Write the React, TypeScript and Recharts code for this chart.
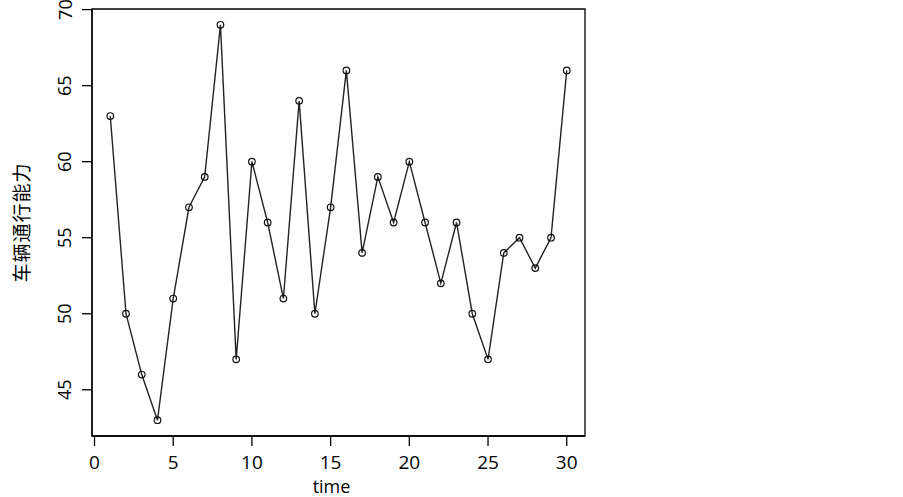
import React from 'react';
import { LineChart, Line, XAxis, YAxis, ReferenceArea } from 'recharts';

// 车辆通行能力 by time step
const times = [
  1, 2, 3, 4, 5, 6, 7, 8, 9, 10, 11, 12, 13, 14, 15,
  16, 17, 18, 19, 20, 21, 22, 23, 24, 25, 26, 27, 28, 29, 30,
];
const capacity = [
  63, 50, 46, 43, 51, 57, 59, 69, 47, 60, 56, 51, 64, 50, 57,
  66, 54, 59, 56, 60, 56, 52, 56, 50, 47, 54, 55, 53, 55, 66,
];
const xTicks = [0, 5, 10, 15, 20, 25, 30];
const yTicks = [45, 50, 55, 60, 65, 70];

// R-style 4% padding around the data range
const xDomain = [-0.16, 31.16];
const yDomain = [41.96, 70.04];

const data = times.map((t, i) => ({ time: t, value: capacity[i] }));

const FONT = '"Open Sans", "Noto Sans", sans-serif';

const XTick = (props: any) => {
  const { x, y, payload } = props;
  return (
    <text x={x} y={y + 23} textAnchor="middle" fontSize={19} fontFamily={FONT} fill="#000">
      {payload.value}
    </text>
  );
};

const YTick = (props: any) => {
  const { x, y, payload } = props;
  const cx = x - 17.5;
  return (
    <text
      x={cx}
      y={y}
      transform={`rotate(-90, ${cx}, ${y})`}
      textAnchor="middle"
      dominantBaseline="central"
      fontSize={18}
      fontFamily={FONT}
      fill="#000"
    >
      {payload.value}
    </text>
  );
};

const YTitle = (props: any) => {
  const vb = props.viewBox;
  const cx = vb.x + 20;
  const cy = vb.y + vb.height / 2;
  return (
    <text
      x={cx}
      y={cy}
      transform={`rotate(-90, ${cx}, ${cy})`}
      textAnchor="middle"
      dominantBaseline="central"
      fontSize={19}
      letterSpacing={1}
      fontFamily='"Noto Sans CJK SC", sans-serif'
      fill="#000"
    >
      车辆通行能力
    </text>
  );
};

const XTitle = (props: any) => {
  const vb = props.viewBox;
  return (
    <text
      x={vb.x + vb.width / 2 - 7}
      y={vb.y + 57}
      textAnchor="middle"
      fontSize={18}
      fontFamily={FONT}
      fill="#000"
    >
      time
    </text>
  );
};

export default function App() {
  return (
    <div style={{ position: 'absolute', left: 0, top: 0, background: '#fff' }}>
      <LineChart
        width={903}
        height={497}
        data={data}
        margin={{ top: 9, right: 318, bottom: 0, left: 0 }}
      >
        <XAxis
          dataKey="time"
          type="number"
          domain={xDomain}
          ticks={xTicks}
          allowDataOverflow
          height={61}
          tickSize={10}
          tickMargin={0}
          axisLine={{ stroke: '#000', strokeWidth: 1.3 }}
          tickLine={{ stroke: '#000', strokeWidth: 1.3 }}
          tick={<XTick />}
          label={{ content: <XTitle /> }}
        />
        <YAxis
          type="number"
          domain={yDomain}
          ticks={yTicks}
          allowDataOverflow
          width={92}
          tickSize={10}
          tickMargin={0}
          axisLine={{ stroke: '#000', strokeWidth: 1.3 }}
          tickLine={{ stroke: '#000', strokeWidth: 1.3 }}
          tick={<YTick />}
          label={{ content: <YTitle /> }}
        />
        <ReferenceArea
          x1={xDomain[0]}
          x2={xDomain[1]}
          y1={yDomain[0]}
          y2={yDomain[1]}
          ifOverflow="visible"
          fill="none"
          fillOpacity={0}
          stroke="#000"
          strokeWidth={1.3}
        />
        <Line
          dataKey="value"
          stroke="#222"
          strokeWidth={1.4}
          isAnimationActive={false}
          dot={{ r: 3.3, stroke: '#111', strokeWidth: 1.2, fill: 'none' }}
          activeDot={false}
        />
      </LineChart>
    </div>
  );
}
